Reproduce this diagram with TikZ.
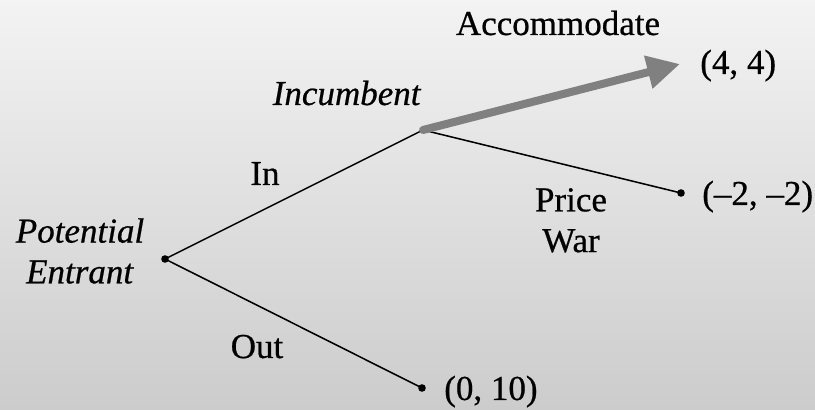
\documentclass[tikz,border=0pt]{standalone}
\usepackage{fontspec}
\setmainfont{Liberation Serif}[FakeBold=0.6]
\usetikzlibrary{arrows.meta}

\definecolor{bgtop}{RGB}{243,243,243}
\definecolor{bgbottom}{RGB}{204,204,204}
\definecolor{arrowgray}{RGB}{128,128,128}

\tikzset{
  every node/.style={font=\fontsize{24.9}{29}\selectfont},
  dot/.style={circle, fill=black, inner sep=0pt, minimum size=0.19cm},
  branch/.style={line width=1.1pt},
  best/.style={line width=0.2cm, draw=arrowgray, line cap=round,
    -{Triangle[length=0.82cm, width=0.8cm]}}
}

\begin{document}
\begin{tikzpicture}

%%%%%%%%%%%%%%%%%%%%%%%%%%%%%%%%%%%%%%%%%%%%%%%%%%%%%%%%%%%%%%%%
% Background
%%%%%%%%%%%%%%%%%%%%%%%%%%%%%%%%%%%%%%%%%%%%%%%%%%%%%%%%%%%%%%%%
\useasboundingbox (0,0) rectangle (20.375,10.25);
\shade [top color=bgtop, bottom color=bgbottom] (0,0) rectangle (20.375,10.25);

%%%%%%%%%%%%%%%%%%%%%%%%%%%%%%%%%%%%%%%%%%%%%%%%%%%%%%%%%%%%%%%%
% Decision nodes and end points
%%%%%%%%%%%%%%%%%%%%%%%%%%%%%%%%%%%%%%%%%%%%%%%%%%%%%%%%%%%%%%%%
\node [dot] (root) at (4.125, 3.775) {};
\coordinate (inc) at (10.575, 7.0);
\node [dot] (war) at (17.025, 5.425) {};
\node [dot] (out) at (10.55, 0.55) {};
\coordinate (tip) at (17.0, 8.65);

% Players
\node [align=center] (entname) at (2.0, 3.975) {\textit{Potential}\\\textit{Entrant}};
\node [anchor=base] (incname) at (8.675, 7.625) {\textit{Incumbent}};

%%%%%%%%%%%%%%%%%%%%%%%%%%%%%%%%%%%%%%%%%%%%%%%%%%%%%%%%%%%%%%%%
% Branches
%%%%%%%%%%%%%%%%%%%%%%%%%%%%%%%%%%%%%%%%%%%%%%%%%%%%%%%%%%%%%%%%
\draw [branch] (root.center) to (inc);
\draw [branch] (root.center) to (out.center);
\draw [branch] (inc) to (war.center);
\draw [best] (inc) to (tip);

% Actions
\node [anchor=base] (inlab) at (6.625, 5.625) {In};
\node [anchor=base] (outlab) at (6.425, 1.3) {Out};
\node [align=center] (warlab) at (14.275, 4.74) {Price\\War};
\node [anchor=base] (acclab) at (13.95, 9.375) {Accommodate};

%%%%%%%%%%%%%%%%%%%%%%%%%%%%%%%%%%%%%%%%%%%%%%%%%%%%%%%%%%%%%%%%
% Payoffs
%%%%%%%%%%%%%%%%%%%%%%%%%%%%%%%%%%%%%%%%%%%%%%%%%%%%%%%%%%%%%%%%
\node [anchor=base west, inner sep=0pt] (pay44) at (17.5, 8.4) {(4, 4)};
\node [anchor=base west, inner sep=0pt] (paywar) at (17.55, 5.125) {(--2, --2)};
\node [anchor=base west, inner sep=0pt] (payout) at (11.1, 0.25) {(0, 10)};

\end{tikzpicture}
\end{document}
